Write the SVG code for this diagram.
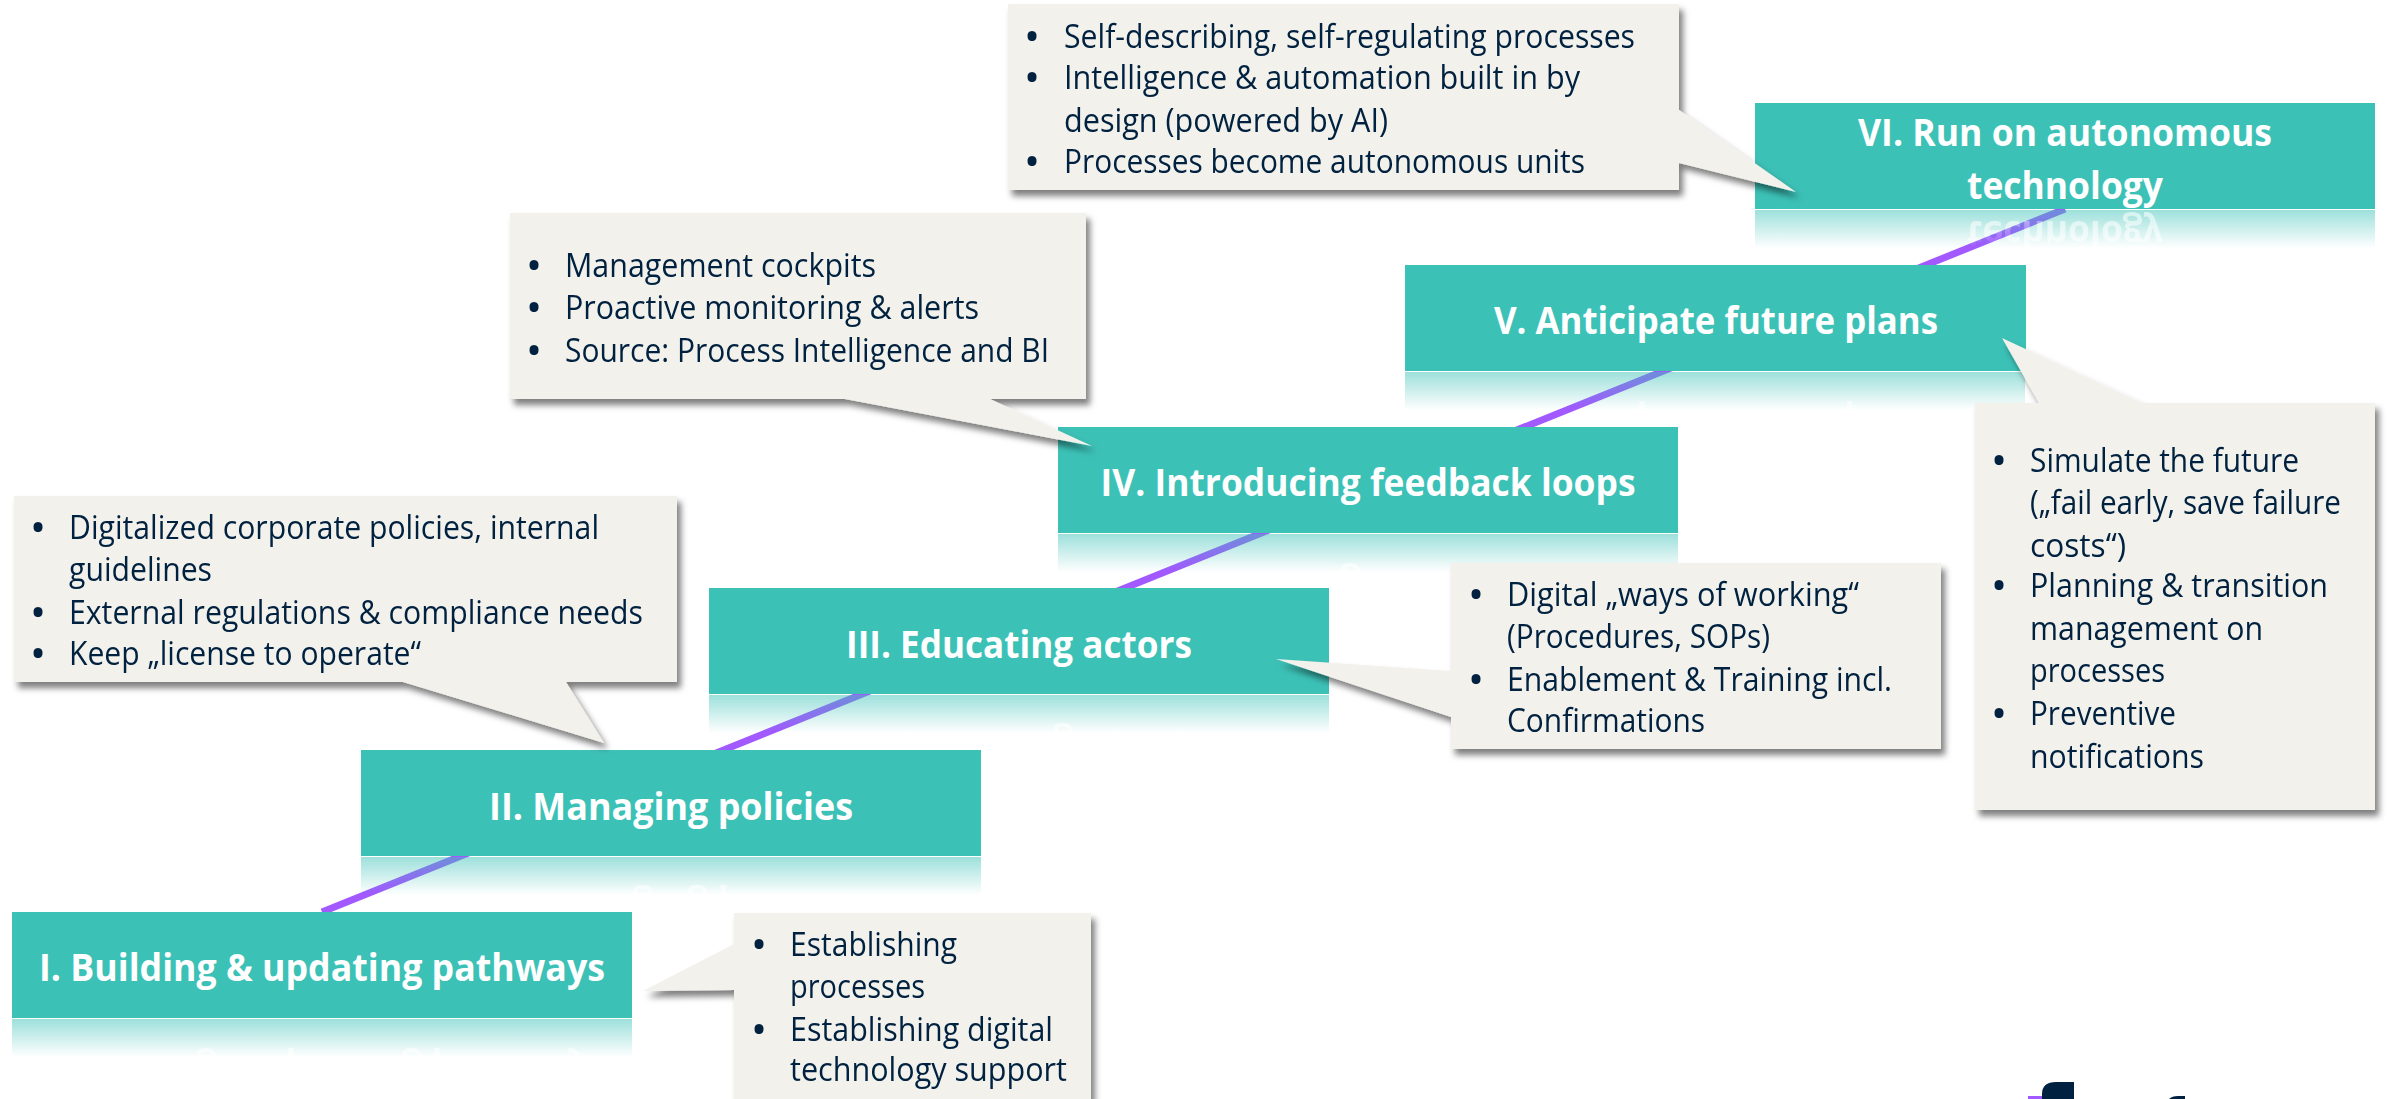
<svg xmlns="http://www.w3.org/2000/svg" width="2387" height="1099" viewBox="0 0 2387 1099">
<style>
.n{fill:#3cc1b7}
.rb{fill:#3cc1b7;fill-opacity:.5}
.rt{opacity:.55}
.t{font:700 37px "Open Sans","Noto Sans",sans-serif;fill:#fff;text-anchor:middle}
.b{font:400 32px "Open Sans","Noto Sans",sans-serif;fill:#00213f}
.d{font-size:32px;font-weight:700}
.c{fill:#f2f1eb}
.cg{filter:url(#sh)}
</style>
<defs>
<linearGradient id="fg" x1="0" y1="0" x2="0" y2="1"><stop offset="0" stop-color="#fff"/><stop offset="1" stop-color="#000"/></linearGradient>
<mask id="fade" maskUnits="userSpaceOnUse" x="0" y="0" width="630" height="38"><rect width="630" height="38" fill="url(#fg)"/></mask>
<filter id="sh" x="-10%" y="-10%" width="120%" height="120%"><feDropShadow dx="4" dy="6" stdDeviation="3" flood-color="#000" flood-opacity=".5"/></filter>
</defs>
<rect width="2387" height="1099" fill="#fff"/>
<g id="connectors"><line x1="322" y1="912" x2="2065" y2="209" stroke="#a259ff" stroke-width="7"/></g>

<g id="node-1"><rect class="n" x="12" y="912" width="620" height="106"/><text id="t1" class="t" x="322" y="981" textLength="566" lengthAdjust="spacingAndGlyphs">I. Building &amp; updating pathways</text>
<g transform="translate(12,1019)" mask="url(#fade)"><rect class="rb" width="620" height="38"/><use class="rt" href="#t1" transform="translate(-12,1019) scale(1,-1)"/></g></g>
<g id="node-2"><rect class="n" x="361" y="750" width="620" height="106"/><text id="t2" class="t" x="671" y="820" textLength="364" lengthAdjust="spacingAndGlyphs">II. Managing policies</text>
<g transform="translate(361,857)" mask="url(#fade)"><rect class="rb" width="620" height="38"/><use class="rt" href="#t2" transform="translate(-361,857) scale(1,-1)"/></g></g>
<g id="node-3"><rect class="n" x="709" y="588" width="620" height="106"/><text id="t3" class="t" x="1019" y="658" textLength="346" lengthAdjust="spacingAndGlyphs">III. Educating actors</text>
<g transform="translate(709,695)" mask="url(#fade)"><rect class="rb" width="620" height="38"/><use class="rt" href="#t3" transform="translate(-709,695) scale(1,-1)"/></g></g>
<g id="node-4"><rect class="n" x="1058" y="427" width="620" height="106"/><text id="t4" class="t" x="1368" y="496" textLength="535" lengthAdjust="spacingAndGlyphs">IV. Introducing feedback loops</text>
<g transform="translate(1058,534)" mask="url(#fade)"><rect class="rb" width="620" height="38"/><use class="rt" href="#t4" transform="translate(-1058,534) scale(1,-1)"/></g></g>
<g id="node-5"><rect class="n" x="1405" y="265" width="621" height="106"/><text id="t5" class="t" x="1716" y="334" textLength="444" lengthAdjust="spacingAndGlyphs">V. Anticipate future plans</text>
<g transform="translate(1405,372)" mask="url(#fade)"><rect class="rb" width="620" height="38"/><use class="rt" href="#t5" transform="translate(-1405,372) scale(1,-1)"/></g></g>
<g id="node-6"><rect class="n" x="1755" y="103" width="620" height="106"/><text class="t" x="2065" y="146" textLength="414" lengthAdjust="spacingAndGlyphs">VI. Run on autonomous</text><text id="t6" class="t" x="2065" y="199" textLength="196" lengthAdjust="spacingAndGlyphs">technology</text>
<g transform="translate(1755,210)" mask="url(#fade)"><rect class="rb" width="620" height="38"/><use class="rt" href="#t6" transform="translate(-1755,210) scale(1,-1)"/></g></g>

<g id="callout-6" class="cg"><path class="c" d="M1008 4H1679V110L1796 192L1679 163V190H1008Z"/>
<g class="b"><text class="d" x="1026" y="48">•</text><text x="1064" y="48" textLength="571" lengthAdjust="spacingAndGlyphs">Self-describing, self-regulating processes</text>
<text class="d" x="1026" y="89">•</text><text x="1064" y="89" textLength="516" lengthAdjust="spacingAndGlyphs">Intelligence &amp; automation built in by</text>
<text x="1064" y="132" textLength="324" lengthAdjust="spacingAndGlyphs">design (powered by AI)</text>
<text class="d" x="1026" y="173">•</text><text x="1064" y="173" textLength="521" lengthAdjust="spacingAndGlyphs">Processes become autonomous units</text></g></g>

<g id="callout-4" class="cg"><path class="c" d="M510 213H1086V399H990L1092 446L845 399H510Z"/>
<g class="b"><text class="d" x="528" y="277">•</text><text x="565" y="277" textLength="311" lengthAdjust="spacingAndGlyphs">Management cockpits</text>
<text class="d" x="528" y="319">•</text><text x="565" y="319" textLength="414" lengthAdjust="spacingAndGlyphs">Proactive monitoring &amp; alerts</text>
<text class="d" x="528" y="362">•</text><text x="565" y="362" textLength="484" lengthAdjust="spacingAndGlyphs">Source: Process Intelligence and BI</text></g></g>

<g id="callout-2" class="cg"><path class="c" d="M14 496H677V682H566L604 743L403 682H14Z"/>
<g class="b"><text class="d" x="32" y="539">•</text><text x="69" y="539" textLength="530" lengthAdjust="spacingAndGlyphs">Digitalized corporate policies, internal</text>
<text x="69" y="581" textLength="143" lengthAdjust="spacingAndGlyphs">guidelines</text>
<text class="d" x="32" y="624">•</text><text x="69" y="624" textLength="574" lengthAdjust="spacingAndGlyphs">External regulations &amp; compliance needs</text>
<text class="d" x="32" y="665">•</text><text x="69" y="665" textLength="352" lengthAdjust="spacingAndGlyphs">Keep „license to operate“</text></g></g>

<g id="callout-3" class="cg"><path class="c" d="M1451 563H1941V749H1451V717L1276 659L1451 671Z"/>
<g class="b"><text class="d" x="1470" y="606">•</text><text x="1507" y="606" textLength="352" lengthAdjust="spacingAndGlyphs">Digital „ways of working“</text>
<text x="1507" y="648" textLength="263" lengthAdjust="spacingAndGlyphs">(Procedures, SOPs)</text>
<text class="d" x="1470" y="691">•</text><text x="1507" y="691" textLength="385" lengthAdjust="spacingAndGlyphs">Enablement &amp; Training incl.</text>
<text x="1507" y="732" textLength="198" lengthAdjust="spacingAndGlyphs">Confirmations</text></g></g>

<g id="callout-5" class="cg"><path class="c" d="M1975 403H2039L2002 338L2142 403H2375V810H1975Z"/>
<g class="b"><text class="d" x="1993" y="472">•</text><text x="2030" y="472" textLength="269" lengthAdjust="spacingAndGlyphs">Simulate the future</text>
<text x="2030" y="514" textLength="311" lengthAdjust="spacingAndGlyphs">(„fail early, save failure</text>
<text x="2030" y="557" textLength="96" lengthAdjust="spacingAndGlyphs">costs“)</text>
<text class="d" x="1993" y="597">•</text><text x="2030" y="597" textLength="298" lengthAdjust="spacingAndGlyphs">Planning &amp; transition</text>
<text x="2030" y="640" textLength="233" lengthAdjust="spacingAndGlyphs">management on</text>
<text x="2030" y="682" textLength="135" lengthAdjust="spacingAndGlyphs">processes</text>
<text class="d" x="1993" y="725">•</text><text x="2030" y="725" textLength="146" lengthAdjust="spacingAndGlyphs">Preventive</text>
<text x="2030" y="768" textLength="174" lengthAdjust="spacingAndGlyphs">notifications</text></g></g>

<g id="callout-1" class="cg"><path class="c" d="M734 913H1091V1110H734V990L643 991L734 944Z"/>
<g class="b"><text class="d" x="753" y="956">•</text><text x="790" y="956" textLength="167" lengthAdjust="spacingAndGlyphs">Establishing</text>
<text x="790" y="998" textLength="135" lengthAdjust="spacingAndGlyphs">processes</text>
<text class="d" x="753" y="1041">•</text><text x="790" y="1041" textLength="263" lengthAdjust="spacingAndGlyphs">Establishing digital</text>
<text x="790" y="1081" textLength="277" lengthAdjust="spacingAndGlyphs">technology support</text></g></g>

<g id="logo"><rect x="2028" y="1096" width="14" height="3" fill="#a259ff"/><path d="M2042 1099V1094Q2042 1082 2056 1082H2074V1099Z" fill="#00213f"/><path d="M2169 1099Q2172 1096 2178 1096H2185V1099Z" fill="#00213f"/></g>
</svg>
